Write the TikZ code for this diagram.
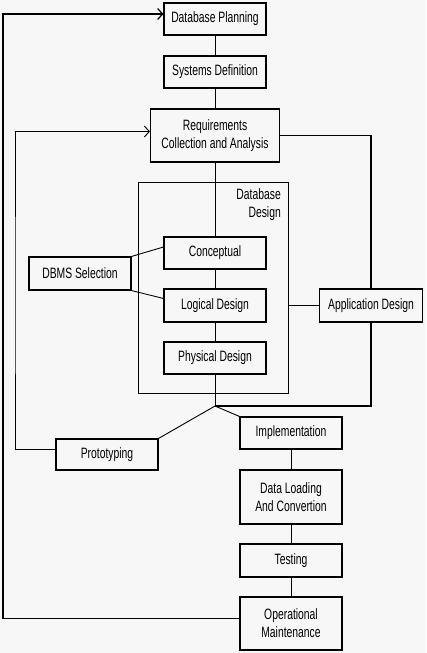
\documentclass[tikz,border=0pt]{standalone}
\usepackage{fontspec}
\setmainfont{Liberation Sans}[FakeStretch=0.69]
\usetikzlibrary{positioning,calc,arrows.meta}
\definecolor{paper}{HTML}{F7F7F7}

\begin{document}
\begin{tikzpicture}[x=1pt,y=-1pt,
    every node/.style={font=\fontsize{15}{18}\selectfont,align=center},
    stage/.style={draw,line width=1.1pt,inner sep=0pt,minimum width=102pt,minimum height=32pt},
    link/.style={line width=0.9pt}]
    \fill [paper] (0,0) rectangle (426,653);
    \useasboundingbox (0,0) rectangle (426,653);

    % main column
    \node (planning) [stage] at (215,19) {Database Planning};
    \node (sysdef) [stage] at (215,72) {Systems Definition};
    \node (reqs) [stage,minimum width=129pt,minimum height=53pt] at (215,135.5) {Requirements\\Collection and Analysis};

    % design block
    \draw [line width=1pt] (138,182) rectangle (288,393);
    \node (dbdesign) [anchor=north east,align=right,inner sep=0pt] at (281,188) {Database\\Design};
    \coordinate (dbbox-east) at (288,305.5);
    \node (conceptual) [stage] at (215,253) {Conceptual};
    \node (logical) [stage,minimum height=33pt] at (215,305.5) {Logical Design};
    \node (physical) [stage] at (215,358) {Physical Design};
    \node (dbms) [stage,minimum height=33pt] at (80,273.5) {DBMS Selection};
    \node (appdesign) [stage,minimum width=103pt,minimum height=33pt] at (371,305.5) {Application Design};

    % lower part
    \coordinate (fork) at (215,406);
    \node (prototyping) [stage,minimum height=31pt] at (107,454.5) {Prototyping};
    \node (implementation) [stage] at (291,433) {Implementation};
    \node (loading) [stage,minimum height=54pt] at (291,497) {Data Loading\\And Convertion};
    \node (testing) [stage,minimum height=33pt] at (291,560.5) {Testing};
    \node (maintenance) [stage,minimum height=53pt] at (291,623.5) {Operational\\Maintenance};

    \draw [link] (planning) -- (sysdef) -- (reqs) -- (conceptual) -- (logical) -- (physical) -- (fork);
    \draw [link] (implementation) -- (loading) -- (testing) -- (maintenance);
    \draw [link] (dbbox-east) -- (appdesign.west);
    \draw [link] (dbms.north east) -- ($(conceptual.west)+(0,-6)$);
    \draw [link] (dbms.south east) -- ($(logical.west)+(0,-7)$);
    \draw [link,line width=1.2pt] (reqs.east) -| (appdesign.north);
    \draw [link,line width=1.2pt] (appdesign.south) |- (fork);
    \draw [link] (fork) -- (prototyping.north east);
    \draw [link] (fork) -- (implementation.north west);

    % feedback loops
    \draw [link,-{Straight Barb[length=5pt,width=11pt]}] ($(prototyping.west)+(0,-5)$) -| (15,300) |- ($(reqs.west)+(0,-4)$);
    \draw [link,line width=1.2pt,-{Straight Barb[length=5pt,width=11pt]}] ($(maintenance.west)+(0,-5)$) -| (3,300) |- ($(planning.west)+(0,-5)$);
\end{tikzpicture}
\end{document}
